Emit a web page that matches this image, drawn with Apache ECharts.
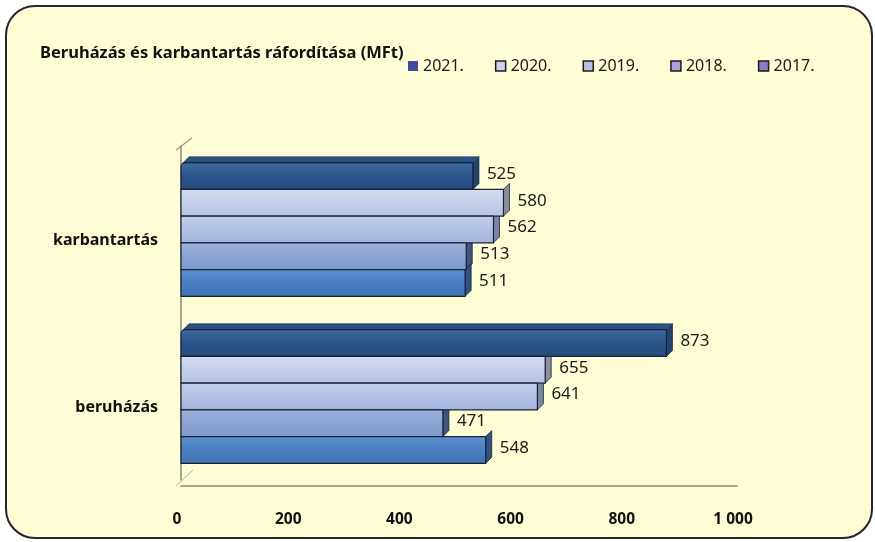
<!DOCTYPE html>
<html>
<head>
<meta charset="utf-8">
<script src="https://cdn.jsdelivr.net/npm/echarts@6/dist/echarts.min.js"></script>
<style>
  html, body { margin: 0; padding: 0; background: #ffffff; }
  #frame { position: absolute; left: 5px; top: 5px; width: 864px; height: 530px;
           border: 2px solid #262626; border-radius: 30px; background: #FFFDD3; }
  #chart { position: absolute; left: 0; top: 0; width: 875px; height: 542px; }
</style>
</head>
<body>
<div id="frame"></div>
<div id="chart"></div>
<script>
const categories = ['karbantartás', 'beruházás'];
const years = ['2021.', '2020.', '2019.', '2018.', '2017.'];
const v2021 = [525, 873];
const v2020 = [580, 655];
const v2019 = [562, 641];
const v2018 = [513, 471];
const v2017 = [511, 548];
const xTickLabels = ['0', '200', '400', '600', '800', '1 000'];
const seriesValues = [v2021, v2020, v2019, v2018, v2017];

const faceTop = ['#3d6aa3', '#d6ddf1', '#c4d0ec', '#9db3de', '#5a8fd2'];
const faceMid = ['#2c568b', '#c6cfea', '#b2c1e4', '#8aa4d4', '#4a7fc2'];
const faceBot = ['#234a7c', '#b8c2e1', '#a3b3dc', '#7d98cc', '#3f74b6'];
const capCol  = ['#1f4373', '#8c909c', '#7a86a6', '#3e5482', '#2f5386'];
const legendCol = ['#3e4c9a', '#d0cef0', '#b9c0ea', '#a99fe0', '#8a7dc8'];
const FONT = '"Noto Sans", sans-serif';

const chart = echarts.init(document.getElementById('chart'), null, { renderer: 'canvas' });

function makeRender(k) {
  return function (params, api) {
    const j = api.value(0), v = api.value(1);
    const p0 = api.coord([0, j]);
    const p1 = api.coord([v, j]);
    const band = api.size([0, 1])[1];
    const h = band * 0.8 / 5;
    const yT = p0[1] - band * 0.4 + k * h;
    const yB = yT + h;
    const d = 6;
    const children = [];
    children.push({
      type: 'rect', z2: 10,
      shape: { x: p0[0], y: yT, width: p1[0] - p0[0], height: h, r: k === 0 ? [4, 0, 0, 0] : 0 },
      style: {
        fill: new echarts.graphic.LinearGradient(0, 0, 0, 1, [
          { offset: 0, color: faceTop[k] }, { offset: 0.5, color: faceMid[k] }, { offset: 1, color: faceBot[k] }
        ]),
        stroke: '#1b2230', lineWidth: 1.2
      }
    });
    children.push({
      type: 'polygon', z2: 5,
      shape: { points: [[p1[0], yT], [p1[0] + d, yT - d], [p1[0] + d, yB - d], [p1[0], yB]] },
      style: { fill: capCol[k], stroke: '#1b2230', lineWidth: 0.8 }
    });
    if (k === 0) {
      children.push({
        type: 'polygon', z2: 5,
        shape: { points: [[p0[0] + 2, yT], [p0[0] + d + 2, yT - d], [p1[0] + d, yT - d], [p1[0], yT]] },
        style: { fill: '#2a5285', stroke: '#203a60', lineWidth: 0.6 }
      });
    }
    children.push({
      type: 'text', z2: 20,
      style: {
        x: p1[0] + d + 8, y: (yT + yB) / 2 - 2, text: String(v),
        font: '17px ' + FONT,
        fill: '#1a1a1a', verticalAlign: 'middle', align: 'left'
      }
    });
    return { type: 'group', children: children };
  };
}

const series = years.map((y, k) => ({
  type: 'custom',
  name: y,
  renderItem: makeRender(k),
  encode: { x: 1, y: 0 },
  data: categories.map((c, j) => [j, seriesValues[k][j]]),
  itemStyle: { color: legendCol[k] }
}));

chart.setOption({
  animation: false,
  textStyle: { fontFamily: FONT },
  title: {
    text: 'Beruházás és karbantartás ráfordítása (MFt)',
    left: 35, top: 40,
    textStyle: { fontSize: 16.5, fontWeight: 'bold', color: '#111', fontFamily: FONT }
  },
  legend: {
    left: 403, top: 53,
    icon: 'rect', itemWidth: 10, itemHeight: 10, itemGap: 31,
    textStyle: { fontSize: 16, color: '#1a1a1a', fontFamily: FONT },
    data: years.map((y, k) => ({
      name: y,
      itemStyle: k === 0
        ? { color: legendCol[k], borderWidth: 0 }
        : { color: legendCol[k], borderColor: '#1a1a1a', borderWidth: 1.5 }
    }))
  },
  graphic: [
    { type: 'line', shape: { x1: 176, y1: 150, x2: 192, y2: 138 }, style: { stroke: '#9a9a90', lineWidth: 1.2 } },
    { type: 'line', shape: { x1: 176, y1: 486, x2: 193, y2: 470 }, style: { stroke: '#b0b0a6', lineWidth: 1 } }
  ],
  grid: { left: 181, right: 138, top: 146, height: 334, containLabel: false },
  xAxis: {
    type: 'value', min: 0, max: 1000, interval: 200, offset: 6,
    axisLine: { show: true, lineStyle: { color: '#8a8a80', width: 1.5 } },
    axisTick: { show: false },
    splitLine: { show: false },
    axisLabel: {
      margin: 26, fontSize: 15.5, fontWeight: 'bold', color: '#111', padding: [0, 8, 0, 0],
      fontFamily: FONT,
      formatter: function (v) { return xTickLabels[Math.round(v / 200)]; }
    }
  },
  yAxis: {
    type: 'category', data: categories, inverse: true, offset: 5,
    axisLine: { show: true, lineStyle: { color: '#8a8a80', width: 1.5 } },
    axisTick: { show: false },
    splitLine: { show: false },
    axisLabel: {
      margin: 18, fontSize: 16, fontWeight: 'bold', color: '#111',
      verticalAlign: 'top', padding: [3, 0, 0, 0],
      fontFamily: FONT
    }
  },
  series: series
});
</script>
</body>
</html>
